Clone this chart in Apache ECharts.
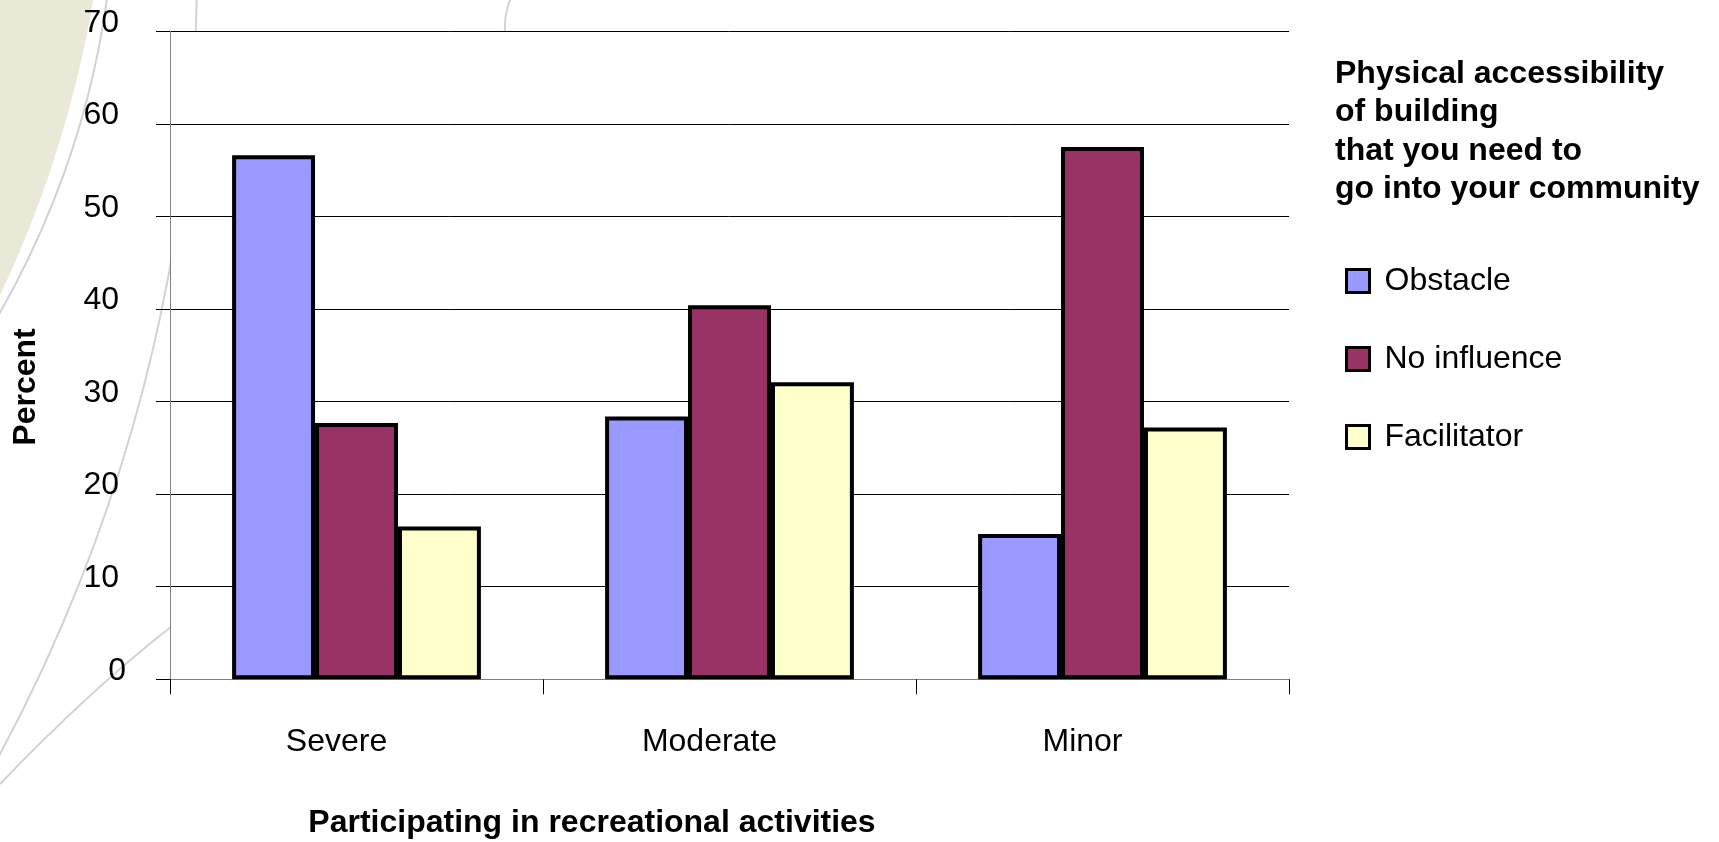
<!DOCTYPE html>
<html>
<head>
<meta charset="utf-8">
<title>Physical accessibility of building</title>
<script src="https://cdn.jsdelivr.net/npm/echarts@6/dist/echarts.min.js"></script>
<style>
  html, body { margin: 0; padding: 0; background: #ffffff; }
  #chart { width: 1719px; height: 842px; }
</style>
</head>
<body>
<div id="chart"></div>
<script>
// Categories: level of restriction in participating in recreational activities
const categories = ['Severe', 'Moderate', 'Minor'];

// Percent of respondents per category, by perceived influence
const obstacle    = [56.6, 28.4, 15.7];
const noInfluence = [27.7, 40.4, 57.5];
const facilitator = [16.5, 32.1, 27.2];

const seriesNames = ['Obstacle', 'No influence', 'Facilitator'];
const yTicks = [0, 10, 20, 30, 40, 50, 60, 70];

const FONT = '"Liberation Sans", Arial, Helvetica, sans-serif';
const chart = echarts.init(document.getElementById('chart'), null, { renderer: 'canvas' });

function barSeries(name, data, color) {
  return {
    name: name,
    type: 'bar',
    data: data,
    barGap: '0%',
    barCategoryGap: '33.3%',
    itemStyle: { color: color, borderColor: '#000000', borderWidth: 4 },
    emphasis: { disabled: true }
  };
}

const arcStyle = { fill: 'none', stroke: '#D2D2D2', lineWidth: 2 };

// Decorative slide background: beige swoosh and thin grey arcs at the left
const decor = [
  {
    type: 'circle', z: -10, silent: true,
    shape: { cx: -1017, cy: -188, r: 1126 },
    style: { fill: '#EAE9D7', stroke: 'none' }
  },
  {
    type: 'circle', z: -10, silent: true,
    shape: { cx: -755, cy: -120, r: 870 },
    style: arcStyle
  },
  {
    type: 'circle', z: -10, silent: true,
    shape: { cx: -1466, cy: -31, r: 1663 },
    style: arcStyle
  },
  {
    type: 'bezierCurve', z: -10, silent: true,
    shape: { x1: 172, y1: 626, cpx1: 90, cpy1: 690, x2: 0, y2: 784 },
    style: arcStyle
  },
  {
    type: 'bezierCurve', z: -10, silent: true,
    shape: { x1: 510, y1: 0, cpx1: 504, cpy1: 16, x2: 505, y2: 32 },
    style: arcStyle
  },
  // axis titles
  {
    type: 'text', silent: true,
    x: 26, y: 387, rotation: Math.PI / 2,
    style: {
      text: 'Percent', font: 'bold 32px ' + FONT, fill: '#000000',
      align: 'center', verticalAlign: 'middle'
    }
  },
  {
    type: 'text', silent: true,
    x: 592, y: 823,
    style: {
      text: 'Participating in recreational activities', font: 'bold 32px ' + FONT, fill: '#000000',
      align: 'center', verticalAlign: 'middle'
    }
  }
];

const option = {
  backgroundColor: '#ffffff',
  animation: false,
  textStyle: { fontFamily: FONT },
  title: {
    text: 'Physical accessibility\nof building\nthat you need to\ngo into your community',
    left: 1335,
    top: 55,
    padding: 0,
    textStyle: { fontFamily: FONT, fontSize: 32, fontWeight: 'bold', color: '#000000', lineHeight: 38.4 }
  },
  legend: {
    data: seriesNames,
    orient: 'vertical',
    left: 1345,
    top: 265,
    padding: 0,
    itemWidth: 23,
    itemHeight: 23,
    itemGap: 46,
    icon: 'rect',
    selectedMode: false,
    itemStyle: { borderColor: '#000000', borderWidth: 3 },
    textStyle: { fontFamily: FONT, fontSize: 32, color: '#000000', lineHeight: 32, padding: [0, 0, 0, 10] }
  },
  grid: {
    left: 170, right: 430, top: 31.3, bottom: 162.7,
    show: true, backgroundColor: '#ffffff', borderWidth: 0
  },
  xAxis: {
    type: 'category',
    data: categories,
    boundaryGap: true,
    axisLine: { lineStyle: { color: '#808080', width: 1 } },
    axisTick: { show: true, length: 15, lineStyle: { color: '#000000', width: 1 } },
    axisLabel: {
      margin: 47, fontSize: 32, color: '#000000', fontFamily: FONT,
      padding: [0, 40, 0, 0]
    },
    splitLine: { show: false }
  },
  yAxis: {
    type: 'value',
    min: yTicks[0],
    max: yTicks[yTicks.length - 1],
    interval: 10,
    axisLine: { show: true, lineStyle: { color: '#808080', width: 1 } },
    axisTick: { show: true, length: 14, lineStyle: { color: '#000000', width: 1 } },
    axisLabel: {
      margin: 44, fontSize: 32, color: '#000000', fontFamily: FONT,
      verticalAlign: 'bottom', lineHeight: 17,
      // the zero label sits a little closer to the axis than the others
      formatter: function (v) { return v === 0 ? '{z|0}' : '{n|' + v + '}'; },
      rich: {
        z: { fontSize: 32, fontFamily: FONT, color: '#000000', lineHeight: 17 },
        n: { fontSize: 32, fontFamily: FONT, color: '#000000', lineHeight: 17, padding: [0, 7, 0, 0] }
      }
    },
    splitLine: { show: true, lineStyle: { color: '#000000', width: 1 } }
  },
  graphic: { elements: decor },
  series: [
    barSeries(seriesNames[0], obstacle, '#9999FF'),
    barSeries(seriesNames[1], noInfluence, '#993366'),
    barSeries(seriesNames[2], facilitator, '#FFFFCC')
  ]
};

chart.setOption(option);
</script>
</body>
</html>
